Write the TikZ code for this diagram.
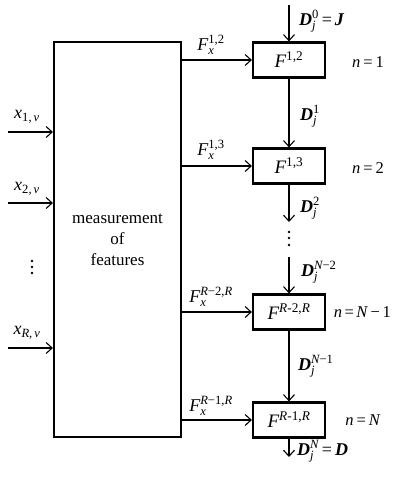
\documentclass[tikz,border=0pt]{standalone}
\usepackage{amsmath}
\usepackage{fontspec}
\setmainfont{Liberation Serif}
\usetikzlibrary{arrows.meta}
\newcommand\mi[1]{\text{\itshape #1}}
\newcommand\mb[1]{\text{\bfseries\itshape #1}}
\newcommand\tr[1]{\text{\upshape #1}}
\begin{document}
\begin{tikzpicture}[x=1pt,y=-1pt,
  bigbox/.style={draw,line width=2.2pt,inner sep=0pt,minimum width=127pt,minimum height=395pt,align=center,font=\fontsize{17}{21}\selectfont},
  fbox/.style={draw,line width=2.2pt,inner sep=0pt,minimum width=72pt,minimum height=35pt,font=\fontsize{19}{21}\selectfont},
  arr/.style={line width=1.1pt,-{Straight Barb[length=6pt,width=11pt,line width=1.1pt]}},
  lbl/.style={inner sep=1pt,font=\fontsize{18}{20}\selectfont},
  nlbl/.style={inner sep=1pt,font=\fontsize{16.5}{18}\selectfont},
  dot/.style={fill,circle,inner sep=0pt,minimum size=2.6pt}]
\useasboundingbox (0,0) rectangle (392,479);
\node[bigbox] (M) at (117.5,239.5) {measurement\\of\\features};
\node[fbox] (B1) at (289,60) {$\mi{F}^{\tr{1,2}}$};
\node[fbox] (B2) at (289,166) {$\mi{F}^{\tr{1,3}}$};
\node[fbox] (B3) at (289,312) {$\mi{F}^{\tr{\itshape R\upshape -2,\itshape R}}$};
\node[fbox] (B4) at (289,420) {$\mi{F}^{\tr{\itshape R\upshape -1,\itshape R}}$};
% inputs
\coordinate (i1) at (8,132);
\coordinate (i2) at (8,203);
\coordinate (iR) at (8,348);
\draw[arr] (i1) -- (i1 -| M.west);
\draw[arr] (i2) -- (i2 -| M.west);
\draw[arr] (iR) -- (iR -| M.west);
\node[lbl] (x1) at (27,117) {$\mi{x}_{\tr{1,}\,\mi{ν}}$};
\node[lbl] (x2) at (27,189) {$\mi{x}_{\tr{2,}\,\mi{ν}}$};
\node[lbl] (xR) at (27,333) {$\mi{x}_{\mi{R}\tr{,}\,\mi{ν}}$};
\node[dot] (xd1) at (32,261) {};
\node[dot] (xd2) at (32,267) {};
\node[dot] (xd3) at (32,273) {};
% F arrows
\draw[arr] (M.east |- B1) -- (B1.west);
\draw[arr] (M.east |- B2) -- (B2.west);
\draw[arr] (M.east |- B3) -- (B3.west);
\draw[arr] (M.east |- B4) -- (B4.west);
\node[lbl] (f1) at (211,45) {$\mi{F}_{\mi{x}}^{\tr{1,2}}$};
\node[lbl] (f2) at (211,150) {$\mi{F}_{\mi{x}}^{\tr{1,3}}$};
\node[lbl] (f3) at (211,297) {$\mi{F}_{\mi{x}}^{\mi{R}\tr{−2,}\mi{R}}$};
\node[lbl] (f4) at (211,406) {$\mi{F}_{\mi{x}}^{\mi{R}\tr{−1,}\mi{R}}$};
% vertical chain
\coordinate (t0) at (289,5);
\coordinate (t2) at (289,222);
\coordinate (t3) at (289,257);
\coordinate (t5) at (289,457);
\draw[arr] (t0) -- (B1.north);
\draw[arr] (B1.south) -- (B2.north);
\draw[arr] (B2.south) -- (t2);
\node[dot] (vd1) at (289,232) {};
\node[dot] (vd2) at (289,238) {};
\node[dot] (vd3) at (289,245) {};
\draw[arr] (t3) -- (B3.north);
\draw[arr] (B3.south) -- (B4.north);
\draw[arr] (B4.south) -- (t5);
\node[lbl,anchor=west] (d0) at (298,21) {$\mb{D}_{\mi{j}}^{\tr{0}}\,\tr{=}\,\mb{J}$};
\node[lbl,anchor=west] (d1) at (299,116) {$\mb{D}_{\mi{j}}^{\tr{1}}$};
\node[lbl,anchor=west] (d2) at (299,208) {$\mb{D}_{\mi{j}}^{\tr{2}}$};
\node[lbl,anchor=west] (d3) at (300,272) {$\mb{D}_{\mi{j}}^{\mi{N}\tr{−2}}$};
\node[lbl,anchor=west] (d4) at (297,366) {$\mb{D}_{\mi{j}}^{\mi{N}\tr{−1}}$};
\node[lbl,anchor=west] (d5) at (296,451) {$\mb{D}_{\mi{j}}^{\mi{N}}\,\tr{=}\,\mb{D}$};
% n labels
\node[nlbl] (n1) at (368,62) {\textit{n}\kern3pt=\kern3pt1};
\node[nlbl] (n2) at (368,168) {\textit{n}\kern3pt=\kern3pt2};
\node[nlbl,anchor=east] (n3) at (392,312) {\textit{n}\kern2.5pt=\kern2.5pt\textit{N}\kern2.5pt−\kern2.5pt1};
\node[nlbl] (n4) at (363,420) {\textit{n}\kern3pt=\kern3pt\textit{N}};
\end{tikzpicture}
\end{document}
